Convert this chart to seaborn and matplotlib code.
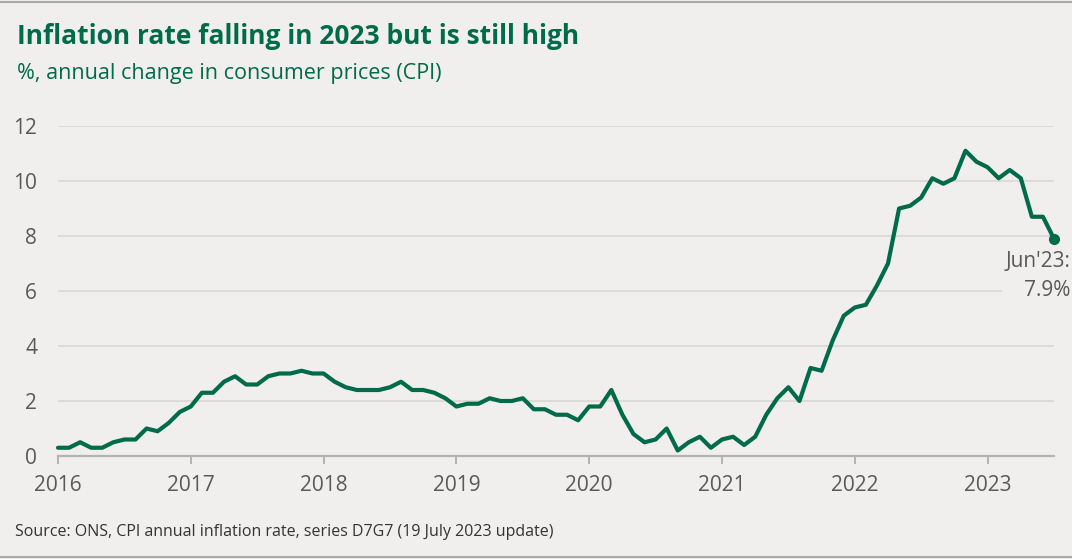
import numpy as np
import pandas as pd
import matplotlib
matplotlib.use("Agg")
import matplotlib.pyplot as plt
import seaborn as sns
from matplotlib.lines import Line2D

# ---- data ----
start_year = 2016
cpi = [
    # 2016
    0.3, 0.3, 0.5, 0.3, 0.3, 0.5, 0.6, 0.6, 1.0, 0.9, 1.2, 1.6,
    # 2017
    1.8, 2.3, 2.3, 2.7, 2.9, 2.6, 2.6, 2.9, 3.0, 3.0, 3.1, 3.0,
    # 2018
    3.0, 2.7, 2.5, 2.4, 2.4, 2.4, 2.5, 2.7, 2.4, 2.4, 2.3, 2.1,
    # 2019
    1.8, 1.9, 1.9, 2.1, 2.0, 2.0, 2.1, 1.7, 1.7, 1.5, 1.5, 1.3,
    # 2020
    1.8, 1.8, 2.4, 1.5, 0.8, 0.5, 0.6, 1.0, 0.2, 0.5, 0.7, 0.3,
    # 2021
    0.6, 0.7, 0.4, 0.7, 1.5, 2.1, 2.5, 2.0, 3.2, 3.1, 4.2, 5.1,
    # 2022
    5.4, 5.5, 6.2, 7.0, 9.0, 9.1, 9.4, 10.1, 9.9, 10.1, 11.1, 10.7,
    # 2023
    10.5, 10.1, 10.4, 10.1, 8.7, 8.7, 7.9,
]
year_ticks = [2016, 2017, 2018, 2019, 2020, 2021, 2022, 2023]
y_ticks = [0, 2, 4, 6, 8, 10, 12]
title = "Inflation rate falling in 2023 but is still high"
subtitle = "%, annual change in consumer prices (CPI)"
source = "Source: ONS, CPI annual inflation rate, series D7G7 (19 July 2023 update)"
end_label = "Jun'23:\n7.9%"

df = pd.DataFrame({"t": start_year + np.arange(len(cpi)) / 12.0, "cpi": cpi})

# ---- style ----
BG = "#f0efed"
GREEN = "#006b4a"
GRID = "#dcdbd8"
AXIS = "#b3b3b3"
TXT = "#595959"

sns.set_theme(style="white")
plt.rcParams["font.family"] = ["Open Sans", "DejaVu Sans"]

fig = plt.figure(figsize=(10.72, 5.59), dpi=100, facecolor=BG)
ax = fig.add_axes([58 / 1072, 1 - 456 / 559, (1054 - 58) / 1072, (456 - 126) / 559])
ax.set_facecolor(BG)

sns.lineplot(data=df, x="t", y="cpi", ax=ax, color=GREEN, linewidth=3.0,
             clip_on=False, zorder=3)

last_t = df["t"].iloc[-1]
last_v = df["cpi"].iloc[-1]
ax.plot([last_t], [last_v], "o", color=GREEN, markersize=7, clip_on=False, zorder=4)

ax.set_xlim(start_year, last_t)
ax.set_ylim(0, 12)
ax.set_xticks(year_ticks)
ax.set_xticklabels([str(y) for y in year_ticks])
ax.set_yticks(y_ticks)
ax.set_yticklabels([str(v) for v in y_ticks])
ax.set_xlabel("")
ax.set_ylabel("")

ax.yaxis.grid(True, color=GRID, linewidth=1.5, zorder=0)
ax.xaxis.grid(False)
for s in ["top", "right", "left"]:
    ax.spines[s].set_visible(False)
ax.spines["bottom"].set_color(AXIS)
ax.spines["bottom"].set_linewidth(1.6)
ax.spines["bottom"].set_zorder(2)

ax.tick_params(axis="x", colors=TXT, labelsize=15, length=6, width=1.4,
               direction="out", pad=7.5, color=AXIS, bottom=True)
ax.tick_params(axis="y", colors=TXT, labelsize=15, length=0, pad=15)

ax.annotate(end_label, xy=(last_t, last_v), xytext=(12, -9),
            textcoords="offset points", ha="right", va="top",
            fontsize=15, color=TXT, linespacing=1.5, multialignment="right",
            bbox=dict(boxstyle="square,pad=0.2", facecolor=BG, edgecolor="none"),
            zorder=5, annotation_clip=False)

fig.text(17 / 1072, 1 - 44 / 559, title, fontsize=19, fontweight="bold",
         color=GREEN, ha="left", va="baseline")
fig.text(17 / 1072, 1 - 79 / 559, subtitle, fontsize=15.5, color=GREEN,
         ha="left", va="baseline")
fig.text(15 / 1072, 1 - 536 / 559, source, fontsize=11.5, color="#333333",
         ha="left", va="baseline")

fig.add_artist(Line2D([0, 1], [1 - 1.5 / 559, 1 - 1.5 / 559], color="#aaaaaa",
                      linewidth=1.5, transform=fig.transFigure))
fig.add_artist(Line2D([0, 1], [2.5 / 559, 2.5 / 559], color="#aaaaaa",
                      linewidth=1.5, transform=fig.transFigure))

fig.savefig("out.png", dpi=100, facecolor=BG)
